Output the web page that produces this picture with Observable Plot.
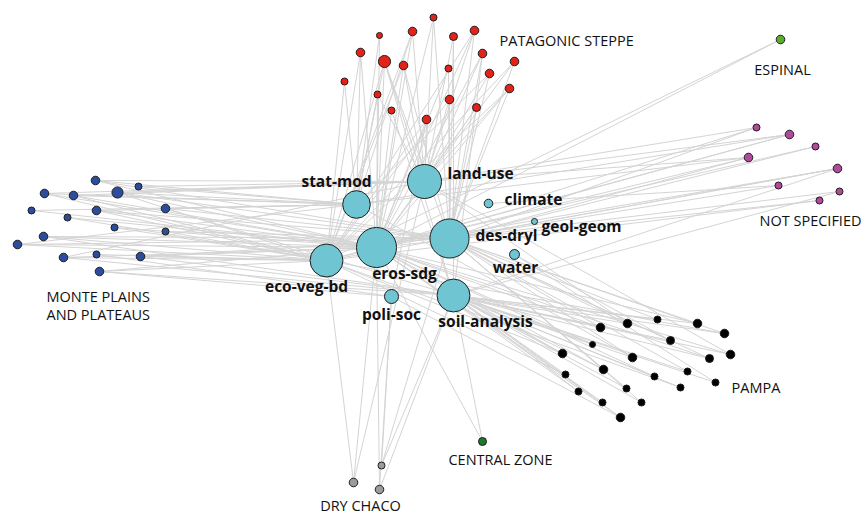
<!DOCTYPE html>
<html>
<head>
<meta charset="utf-8">
<script src="https://cdn.jsdelivr.net/npm/d3@7"></script>
<script src="https://cdn.jsdelivr.net/npm/@observablehq/plot@0.6"></script>
<style>
  body { margin: 0; background: #fff; }
  #chart svg { display: block; }
</style>
</head>
<body>
<div id="chart"></div>
<script>
// Research topics (hub nodes): layout position and number of articles
const topicIds    = ["L", "S", "C", "G", "D", "E", "V", "W", "P", "A"];
const topicNames  = ["land-use", "stat-mod", "climate", "geol-geom", "des-dryl", "eros-sdg", "eco-veg-bd", "water", "poli-soc", "soil-analysis"];
const topicX      = [424, 356, 488, 534, 449, 376, 326, 514, 391, 453];
const topicY      = [181, 204, 203, 221, 238, 247, 260, 254, 296, 295];
const topicWeight = [47, 31, 3, 1.5, 62, 65, 44, 4, 8, 44];

// Study sites per region: [layout x, layout y, weight, linked topics]
const patagonicSteppe = [
  [433, 17, 2, "LDE"], [412, 31, 3, "LESV"], [379, 35, 1.5, "SE"], [453, 36, 2.6, "LDA"],
  [474, 30, 3, "LDEV"], [360, 52, 3, "SVE"], [384, 61, 6, "SVEDLA"], [403, 65, 3, "ELVD"],
  [448, 68, 2, "DE"], [482, 53, 3, "DLAE"], [514, 61, 3, "DEV"], [489, 73, 3, "LDS"],
  [344, 81, 2, "VS"], [377, 94, 2, "SEL"], [509, 88, 3, "DLEV"], [449, 99, 3, "LDV"],
  [391, 110, 2, "EA"], [476, 107, 2.6, "DLE"], [426, 119, 3, "LEPV"]
];
const montePlains = [
  [95, 180, 3, "SLDE"], [44, 193, 3, "SEVL"], [73, 195, 3, "SLEV"], [117, 192, 5, "SDLEV"],
  [138, 186, 2, "SL"], [31, 210, 2, "SE"], [67, 217, 2, "VE"], [96, 210, 3, "SEDV"],
  [165, 208, 3, "SDA"], [114, 227, 2, "EV"], [165, 231, 2, "VD"], [43, 236, 3, "VEAD"],
  [17, 244, 3, "VEDS"], [63, 257, 3, "VEAL"], [96, 254, 2, "VP"], [140, 256, 3, "VEAD"],
  [99, 271, 3, "VAPE"]
];
const pampa = [
  [600, 327, 3, "ADE"], [627, 323, 3, "ADL"], [657, 319, 2, "AD"], [697, 323, 3, "ADE"],
  [724, 333, 3, "ADV"], [592, 344, 1.5, "AE"], [670, 340, 2.6, "ADW"], [562, 353, 3, "AEV"],
  [632, 357, 3, "ADS"], [709, 358, 2.6, "ADE"], [730, 354, 3, "AEL"], [565, 374, 2, "AV"],
  [603, 369, 3, "ADE"], [654, 376, 2, "AE"], [687, 371, 2, "AD"], [715, 382, 2, "AW"],
  [578, 391, 2, "AE"], [626, 388, 2, "AD"], [680, 387, 2, "AV"], [602, 402, 2, "AE"],
  [641, 402, 2, "AD"], [620, 417, 3, "AEP"]
];
const notSpecified = [
  [756, 127, 2, "LDE"], [789, 134, 3, "LSEV"], [815, 146, 2, "DE"], [748, 157, 3, "LDVS"],
  [837, 168, 3, "DEVA"], [778, 185, 2, "DC"], [839, 191, 2, "DA"], [819, 200, 2, "EV"]
];
const espinal = [[780, 39, 3, "EV"]];
const centralZone = [[482, 441, 2.6, "AE"]];
const dryChaco = [[381, 465, 2, "PAD"], [353, 482, 3, "VEL"], [379, 489, 3, "PEA"]];

const regionNames = ["PATAGONIC STEPPE", "MONTE PLAINS\nAND PLATEAUS", "PAMPA", "NOT SPECIFIED", "ESPINAL", "CENTRAL ZONE", "DRY CHACO"];
const regionSites = [patagonicSteppe, montePlains, pampa, notSpecified, espinal, centralZone, dryChaco];

// Styling
const regionColors = ["#e3221a", "#2c4c9e", "#000000", "#b14a9f", "#5aae2e", "#177a2c", "#9b9b9b"];
const topicColor = "#6fc6d2";
// Label placement relative to the node: [dx, dy, textAnchor]
const topicLabelPlace = {
  L: [23, -7, "start"], S: [-20, -22, "middle"], C: [16, -3, "start"], G: [7, 6, "start"],
  D: [26, -2, "start"], E: [28, 27, "middle"], V: [-20, 27, "middle"], W: [1, 14, "middle"],
  P: [0, 19, "middle"], A: [32, 27, "middle"]
};
// Region label: [index of anchor site, dx, dy, textAnchor]
const regionLabelPlace = [
  [4, 25, 10, "start"], [16, -53, 34, "start"], [15, 16, 5, "start"], [7, -9, 20, "middle"],
  [0, 2, 30, "middle"], [0, 18, 18, "middle"], [2, -19, 16, "middle"]
];

// Build node and link tables
const topics = topicIds.map((id, i) => ({
  id, name: topicNames[i], x: topicX[i], y: topicY[i], w: topicWeight[i], group: "topic"
}));
const topicById = new Map(topics.map(t => [t.id, t]));

const sites = [];
const links = [];
regionSites.forEach((list, r) => {
  list.forEach(([x, y, w, linked]) => {
    sites.push({x, y, w, group: regionNames[r]});
    for (const k of linked) {
      const t = topicById.get(k);
      links.push({x1: x, y1: y, x2: t.x, y2: t.y});
    }
  });
});

const font = "'Open Sans', 'Noto Sans', sans-serif";

const topicLabelMarks = topics.map(t => {
  const [dx, dy, anchor] = topicLabelPlace[t.id];
  return Plot.text([t], {
    x: "x", y: "y", text: "name", dx, dy, textAnchor: anchor,
    fontFamily: font, fontWeight: 700, fontSize: 15.5, fill: "#111"
  });
});

const regionLabelMarks = regionNames.map((name, r) => {
  const [idx, dx, dy, anchor] = regionLabelPlace[r];
  const [x, y] = regionSites[r][idx];
  return Plot.text([{x, y, name}], {
    x: "x", y: "y", text: "name", dx, dy, textAnchor: anchor,
    lineHeight: 1.25, fontFamily: font, fontSize: 14.5, fill: "#111"
  });
});

const chart = Plot.plot({
  width: 863,
  height: 516,
  margin: 0,
  style: {background: "#fff", overflow: "visible"},
  x: {domain: [0, 863], range: [0, 863], axis: null},
  y: {domain: [0, 516], range: [0, 516], axis: null},
  r: {type: "sqrt", domain: [0, 65], range: [0, 20]},
  color: {domain: [...regionNames, "topic"], range: [...regionColors, topicColor]},
  marks: [
    Plot.link(links, {x1: "x1", y1: "y1", x2: "x2", y2: "y2", stroke: "#d4d4d4", strokeWidth: 1}),
    Plot.dot(sites, {x: "x", y: "y", r: "w", fill: "group", stroke: "#1e1e1e", strokeWidth: 1}),
    Plot.dot(topics, {x: "x", y: "y", r: "w", fill: "group", stroke: "#1e1e1e", strokeWidth: 1}),
    ...topicLabelMarks,
    ...regionLabelMarks
  ]
});

document.getElementById("chart").appendChild(chart);
</script>
</body>
</html>
